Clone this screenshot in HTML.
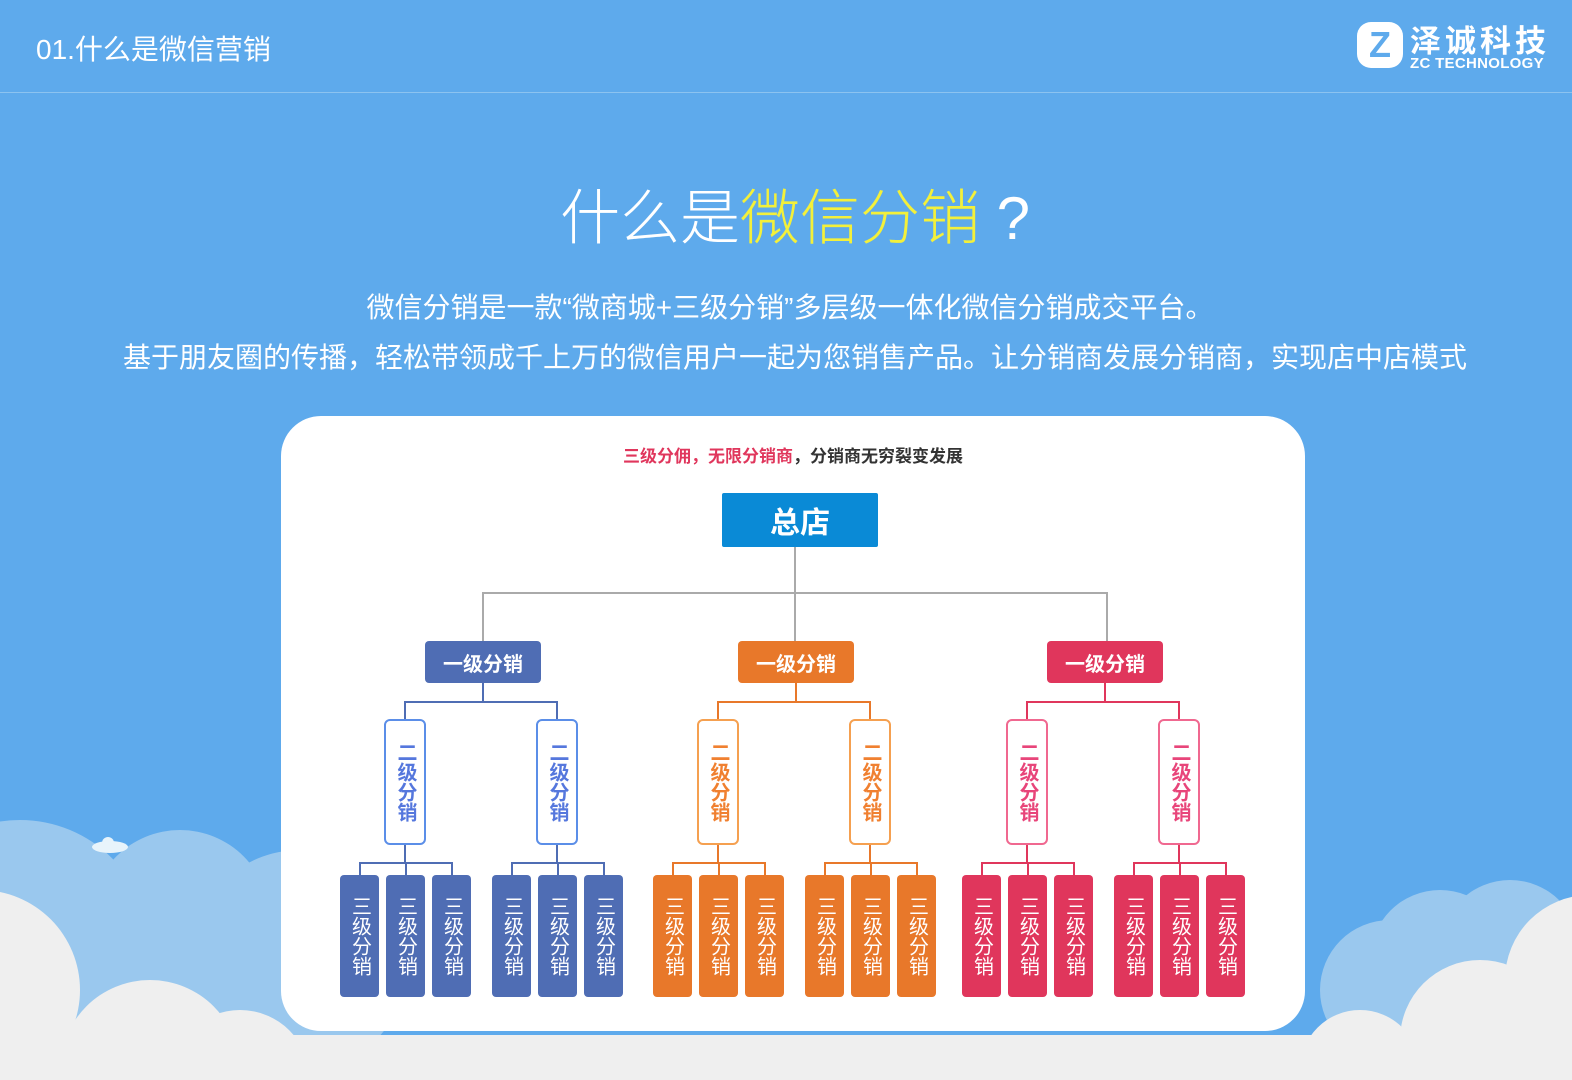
<!DOCTYPE html>
<html><head><meta charset="utf-8"><style>
html,body{margin:0;width:1572px;height:1080px;overflow:hidden}
body{background:#5eaaec;font-family:"Liberation Sans","Noto Sans CJK SC",sans-serif;position:relative}
.a{position:absolute}
.box{position:absolute;box-sizing:border-box;border-radius:4px;color:#fff;font-weight:bold;display:flex;align-items:center;justify-content:center}
.v{writing-mode:vertical-rl;text-orientation:upright;letter-spacing:0;line-height:1}
.l{position:absolute}
</style></head><body>
<svg class="a" style="left:0;top:0" width="1572" height="1080">
<g fill="#9ac8ee">
<circle cx="20" cy="950" r="130"/><circle cx="180" cy="920" r="90"/><circle cx="300" cy="960" r="110"/>
<circle cx="1440" cy="960" r="70"/><circle cx="1390" cy="990" r="70"/><circle cx="1510" cy="950" r="70"/><rect x="0" y="950" width="330" height="130"/><rect x="1340" y="980" width="232" height="100"/>
</g>
<g fill="#efefef">
<circle cx="-20" cy="990" r="100"/><circle cx="150" cy="1070" r="90"/><circle cx="240" cy="1080" r="70"/>
<circle cx="1590" cy="980" r="85"/><circle cx="1480" cy="1040" r="80"/><circle cx="1360" cy="1070" r="60"/>
<rect x="0" y="1035" width="1572" height="45"/>
</g>
<g fill="#e8f4fb"><ellipse cx="110" cy="847" rx="18" ry="6"/><circle cx="108" cy="843" r="6"/></g>
</svg>
<div class="a" style="left:36px;top:28px;color:#fff;font-size:28px">01.什么是微信营销</div>
<div class="a" style="left:0;top:92px;width:1572px;height:1px;background:#8cc3f0"></div>
<div class="a" style="left:1357px;top:22px;width:46px;height:46px;border-radius:14px;background:#fff;color:#5eaaec;font:bold 36px/46px 'Liberation Sans';text-align:center">Z</div>
<div class="a" style="left:1410px;top:16px;color:#fff;font-size:31px;font-weight:bold;letter-spacing:4px">泽诚科技</div>
<div class="a" style="left:1410px;top:55px;color:#fff;font-size:15px;font-weight:bold;letter-spacing:0.3px">ZC TECHNOLOGY</div>
<div class="a" style="left:0;top:170px;width:1590px;text-align:center;color:#fff;font-size:60px;font-weight:300">什么是<span style="color:#f3f03a">微信分销</span> ?</div>
<div class="a" style="left:0;top:286px;width:1580px;text-align:center;color:#fff;font-size:28px">微信分销是一款“微商城+三级分销”多层级一体化微信分销成交平台。</div>
<div class="a" style="left:0;top:336px;width:1590px;text-align:center;color:#fff;font-size:28px">基于朋友圈的传播，轻松带领成千上万的微信用户一起为您销售产品。让分销商发展分销商，实现店中店模式</div>
<div class="a" style="left:281px;top:416px;width:1024px;height:615px;background:#fff;border-radius:40px"></div>
<div class="a" style="left:281px;top:442px;width:1024px;text-align:center;font-size:17px;font-weight:bold;color:#333"><span style="color:#e0365c">三级分佣，无限分销商</span>，分销商无穷裂变发展</div>
<div class="box" style="left:722px;top:493px;width:156px;height:54px;background:#0a8ad6;font-size:30px;border-radius:2px">总店</div>
<div id="t"></div>
<script>
var h='';
function L(x,y,w,hh,c){h+='<div class="l" style="left:'+x+'px;top:'+y+'px;width:'+w+'px;height:'+hh+'px;background:'+c+'"></div>';}
L(794,547,2,46,'#aaa');L(482,592,626,2,'#aaa');L(482,592,2,49,'#aaa');L(794,592,2,49,'#aaa');L(1106,592,2,49,'#aaa');
var G=[[483,'#4f6db4','#5b8ee8','#5577dd'],[796,'#e8782a','#f5a050','#f08030'],[1105,'#e0365c','#f06890','#e8457a']];
G.forEach(function(g){var c=g[0],col=g[1];
h+='<div class="box" style="left:'+(c-58)+'px;top:641px;width:116px;height:42px;background:'+col+';font-size:20px">一级分销</div>';
L(c-1,683,2,19,col);
var l2=[c-79,c+73];L(l2[0],701,l2[1]-l2[0]+2,2,col);
l2.forEach(function(x){L(x,701,2,18,col);
h+='<div class="box v" style="left:'+(x-20)+'px;top:719px;width:42px;height:126px;background:#fff;border:2px solid '+g[2]+';color:'+g[3]+';border-radius:6px;font-size:20px">二级分销</div>';
L(x,845,2,18,col);L(x-45,862,94,2,col);
[-45,1,47].forEach(function(d){L(x+d,862,2,13,col);
h+='<div class="box v" style="left:'+(x+d-19)+'px;top:875px;width:39px;height:122px;background:'+col+';font-size:20px;font-weight:normal">三级分销</div>';});
});});
document.getElementById('t').innerHTML=h;
</script>
</body></html>
